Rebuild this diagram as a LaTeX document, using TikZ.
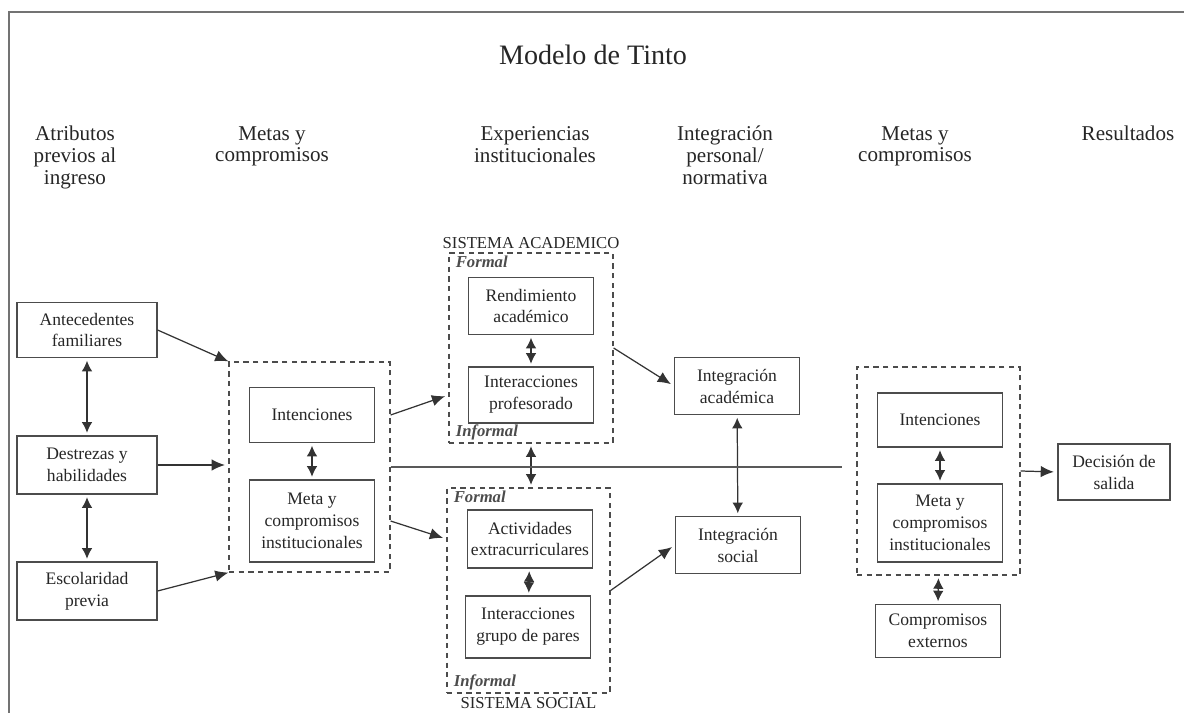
\documentclass[tikz,border=0pt]{standalone}
\usepackage{fontspec}
\setmainfont{Liberation Serif}
\usetikzlibrary{positioning,arrows.meta}

\begin{document}
\begin{tikzpicture}[
  x=0.02cm, y=-0.02cm,
  every node/.style={text=black!85},
  font=\fontsize{10}{12.5}\selectfont,
  title/.style={font=\fontsize{16}{18}\selectfont},
  head/.style={anchor=north, align=center, font=\fontsize{12}{12.5}\selectfont},
  block/.style={draw=black!70, line width=0.7pt, align=center, inner xsep=1pt,
    minimum width=2.5cm, minimum height=1.1cm},
  group/.style={draw=black!70, line width=0.7pt, dash pattern=on 3pt off 2.5pt},
  tag/.style={font=\bfseries\itshape\fontsize{9.5}{11}\selectfont, text=black!70,
    inner xsep=4pt, inner ysep=2pt},
  sys/.style={font=\fontsize{9.5}{11}\selectfont, inner sep=1pt},
  arr/.style={-{Latex[length=7.5pt,width=6.5pt]}, line width=0.7pt, draw=black!80},
  dbl/.style={{Latex[length=6pt,width=6pt]}-{Latex[length=6pt,width=6pt]},
    line width=0.7pt, draw=black!80, shorten <=1.5pt, shorten >=1.5pt}
]
\useasboundingbox (0,0) rectangle (1184,713);

% frame
\draw[black!55, line width=0.8pt] (9,713) -- (9,12) -- (1184,12);

% title and column heads
\node[title] (title) at (593,55) {Modelo de Tinto};
\node[head] (h1) at (75,120) {Atributos\\previos al\\ingreso};
\node[head] (h2) at (272,120) {Metas y\\compromisos};
\node[head] (h3) at (535,120) {Experiencias\\institucionales};
\node[head] (h4) at (725,120) {Integración\\personal/\\normativa};
\node[head] (h5) at (915,120) {Metas y\\compromisos};
\node[head] (h6) at (1128,120) {Resultados};

% attributes
\node[block, minimum width=2.8cm] (antec) at (87,330) {Antecedentes\\familiares};
\node[block, minimum width=2.8cm, minimum height=1.16cm] (dest) at (87,465) {Destrezas y\\habilidades};
\node[block, minimum width=2.8cm, minimum height=1.16cm] (esc) at (87,591) {Escolaridad\\previa};

% goals (first)
\node[group, minimum width=3.22cm, minimum height=4.2cm] (goals1) at (309.5,467) {};
\node[block] (int1) at (312,415) {Intenciones};
\node[block, minimum height=1.64cm] (meta1) at (312,521) {Meta y\\compromisos\\institucionales};

% academic system
\node[group, minimum width=3.28cm, minimum height=3.8cm] (acad) at (531,348) {};
\node[block, minimum height=1.14cm] (rend) at (531,306) {Rendimiento\\académico};
\node[block, minimum height=1.12cm] (prof) at (531,395) {Interacciones\\profesorado};
\node[tag, anchor=north west] (acadf) at (acad.north west) {Formal};
\node[tag, anchor=south west] (acadi) at (acad.south west) {Informal};
\node[sys, above=1pt of acad] (acadl) {SISTEMA ACADEMICO};

% social system
\node[group, minimum width=3.26cm, minimum height=4.1cm] (soc) at (528.5,590.5) {};
\node[block, minimum height=1.16cm] (extra) at (530,539) {Actividades\\extracurriculares};
\node[block, minimum height=1.24cm] (pares) at (528,627) {Interacciones\\grupo de pares};
\node[tag, anchor=north west] (socf) at (soc.north west) {Formal};
\node[tag, anchor=south west] (soci) at (soc.south west) {Informal};
\node[sys, below=1pt of soc] (socl) {SISTEMA SOCIAL};

% integration
\node[block, minimum height=1.14cm] (intacad) at (737,386) {Integración\\académica};
\node[block, minimum height=1.14cm] (intsoc) at (738,545) {Integración\\social};

% goals (second)
\node[group, minimum width=3.26cm, minimum height=4.16cm] (goals2) at (938.5,471) {};
\node[block, minimum height=1.08cm] (int2) at (940,420) {Intenciones};
\node[block, minimum height=1.56cm] (meta2) at (940,523) {Meta y\\compromisos\\institucionales};
\node[block, minimum height=1.06cm] (ext) at (938,631) {Compromisos\\externos};

% outcome
\node[block, minimum width=2.24cm, minimum height=1.12cm] (dec) at (1114,472) {Decisión de\\salida};

% arrows
\draw[dbl] (antec) -- (dest);
\draw[dbl] (dest) -- (esc);
\draw[arr] (antec.east) -- (goals1.north west);
\draw[arr, shorten >=2pt] (dest.east) -- (dest.east -| goals1.west);
\draw[arr] (esc.east) -- (goals1.south west);
\draw[dbl] (int1) -- (meta1);
\draw[arr, shorten >=2pt] (int1.east -| goals1.east) -- (prof.west -| acad.west);
\draw[arr, shorten >=2pt] (meta1.east -| goals1.east) -- (extra.west -| soc.west);
\draw[dbl] (rend) -- (prof);
\draw[dbl] (extra) -- (pares);
\draw[dbl] (acad.south) -- (acad.south |- soc.north);
\draw[arr, shorten >=2pt] (acad.east) -- (intacad.west);
\draw[arr, shorten >=2pt] (soc.east) -- (intsoc.west);
\draw[dbl] (intacad) -- (intsoc);
\draw[line width=0.8pt, black!65, shorten >=0.28cm] (goals1.east) -- (goals1.east -| goals2.west);
\draw[dbl] (int2) -- (meta2);
\draw[dbl] (goals2.south) -- (ext.north);
\draw[arr, shorten >=2pt] (goals2.east) -- (dec.west);

\end{tikzpicture}
\end{document}
